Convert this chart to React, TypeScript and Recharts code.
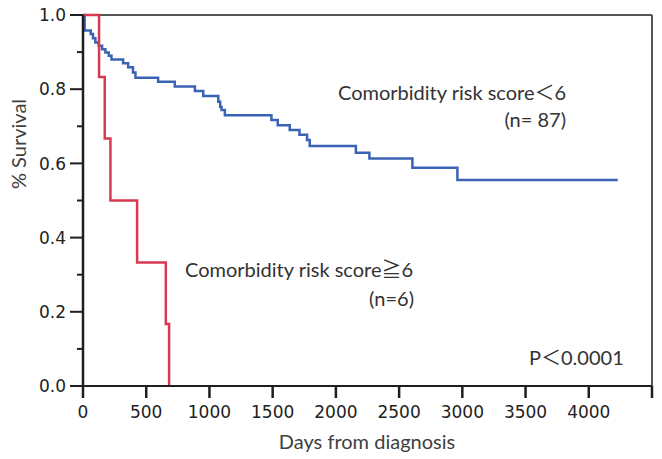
import { LineChart, Line, XAxis, YAxis, ReferenceLine } from 'recharts'

// Kaplan-Meier steps
const lowDays = [0, 13, 61, 79, 98, 124, 151, 177, 204, 225, 317, 357, 395, 415, 594, 726, 885, 951, 1070, 1085, 1096, 1122, 1490, 1540, 1635, 1712, 1772, 1793, 2158, 2265, 2605, 2961, 4229]
const lowSurv = [1.0, 0.958, 0.949, 0.937, 0.926, 0.917, 0.908, 0.899, 0.89, 0.88, 0.87, 0.859, 0.845, 0.831, 0.82, 0.807, 0.795, 0.782, 0.766, 0.752, 0.744, 0.73, 0.717, 0.703, 0.69, 0.677, 0.663, 0.647, 0.629, 0.613, 0.588, 0.555, 0.555]

const highDays = [0, 127, 172, 217, 428, 655, 681]
const highSurv = [1, 0.833, 0.667, 0.5, 0.333, 0.167, 0]

const xTicks = [0, 500, 1000, 1500, 2000, 2500, 3000, 3500, 4000, 4500]
const yTicks = [0, 0.1, 0.2, 0.3, 0.4, 0.5, 0.6, 0.7, 0.8, 0.9, 1.0]

const lowData = lowDays.map((t, i) => ({ t, s: lowSurv[i] }))
const highData = highDays.map((t, i) => ({ t, s: highSurv[i] }))

const BLUE = '#3b63b5'
const RED = '#d63a50'
const AXIS = '#1e1e1e'
const TEXT = '#404040'
const LABEL_FONT = "Lato, 'Noto Sans CJK JP', sans-serif"

const Y_TICK = 13
const Y_MARGIN = 4

function YTick(props: any) {
  const { x, y, payload } = props
  const ax = x + Y_TICK + Y_MARGIN
  const major = Math.round(payload.value * 10) % 2 === 0
  return (
    <g>
      <line x1={ax} x2={ax - (major ? Y_TICK : 6)} y1={y} y2={y} stroke={AXIS} strokeWidth={2} />
      {major && (
        <text x={x} y={y} dy="0.36em" textAnchor="end" fontSize={17} fontFamily="'DejaVu Sans'" fill="#222">
          {payload.value.toFixed(1)}
        </text>
      )}
    </g>
  )
}

export default function App() {
  return (
    <div style={{ position: 'absolute', left: 0, top: 0, width: 662, height: 459, background: '#fff' }}>
      <LineChart width={662} height={459} margin={{ top: 15, right: 10, bottom: 0, left: 0 }}>
        <XAxis
          type="number"
          dataKey="t"
          domain={[0, 4500]}
          ticks={xTicks}
          tickFormatter={(v: number) => (v === 4500 ? '' : String(v))}
          height={73}
          tickSize={12}
          tickMargin={8}
          axisLine={{ stroke: AXIS, strokeWidth: 2 }}
          tickLine={{ stroke: AXIS, strokeWidth: 2.5 }}
          tick={{ fontSize: 17, fontFamily: 'DejaVu Sans', fill: '#222' }}
        />
        <YAxis
          type="number"
          domain={[0, 1]}
          ticks={yTicks}
          width={83}
          tickSize={Y_TICK}
          tickMargin={Y_MARGIN}
          tickLine={false}
          axisLine={{ stroke: AXIS, strokeWidth: 2.5 }}
          tick={<YTick />}
        />
        <ReferenceLine y={1} stroke="#555" strokeWidth={2} />
        <ReferenceLine x={4500} stroke="#555" strokeWidth={2} />
        <Line data={lowData} dataKey="s" type="stepAfter" stroke={BLUE} strokeWidth={2.5} dot={false} isAnimationActive={false} />
        <Line data={highData} dataKey="s" type="stepAfter" stroke={RED} strokeWidth={2.5} dot={false} isAnimationActive={false} />
      </LineChart>
      <svg width={662} height={459} style={{ position: 'absolute', left: 0, top: 0, pointerEvents: 'none' }}>
        <text x={18} y={144} transform="rotate(-90 18 144)" textAnchor="middle" dominantBaseline="central" fontSize={20} fontFamily={LABEL_FONT} fill={TEXT}>
          % Survival
        </text>
        <text x={367} y={449} textAnchor="middle" fontSize={20} fontFamily={LABEL_FONT} fill={TEXT}>
          Days from diagnosis
        </text>
        <text x={338} y={100} fontSize={20} fontFamily={LABEL_FONT} fill="#333">
          Comorbidity risk score＜6
        </text>
        <text x={566} y={127} textAnchor="end" fontSize={20} fontFamily={LABEL_FONT} fill="#333">
          (n= 87)
        </text>
        <text x={185} y={277} fontSize={20} fontFamily={LABEL_FONT} fill="#333">
          Comorbidity risk score≧6
        </text>
        <text x={414} y={306} textAnchor="end" fontSize={20} fontFamily={LABEL_FONT} fill="#333">
          (n=6)
        </text>
        <text x={529} y={365} fontSize={20} fontFamily={LABEL_FONT} fill="#333">
          P＜0.0001
        </text>
      </svg>
    </div>
  )
}
